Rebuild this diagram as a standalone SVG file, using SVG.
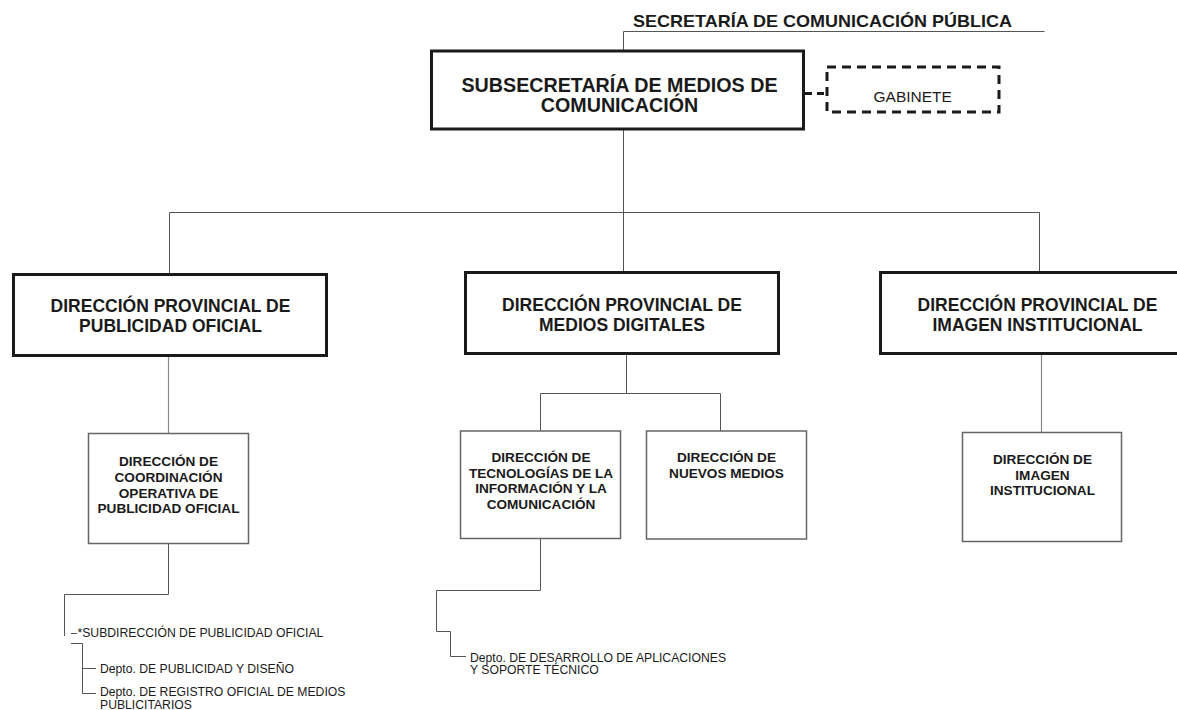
<svg xmlns="http://www.w3.org/2000/svg" width="1177" height="710" viewBox="0 0 1177 710">
<style>
text{font-family:"Liberation Sans",Arial,sans-serif;fill:#1a1a1a}
.t0{font-size:17px;font-weight:bold}
.t1{font-size:19.7px;font-weight:bold}
.t2{font-size:17.5px;font-weight:bold}
.t3{font-size:13.6px;font-weight:bold}
.s{font-size:12.2px}
.g{font-size:15.5px}
.b1{fill:#fff;stroke:#1a1a1a;stroke-width:3}
.b2{fill:#fff;stroke:#1a1a1a;stroke-width:3}
.b3{fill:#fff;stroke:#666;stroke-width:1.5}
.dash{fill:#fff;stroke:#1a1a1a;stroke-width:3;stroke-dasharray:9 6}
.c{fill:none;stroke:#555;stroke-width:1}
.cl{fill:none;stroke:#888;stroke-width:1.2}
.cd{fill:none;stroke:#1a1a1a;stroke-width:3;stroke-dasharray:7 5}
</style>
<g id="connectors">
<path class="c" d="M623.5 31.5H1044.5M623.5 31.5V50"/>
<path class="cd" d="M805 93.5H826"/>
<path class="c" d="M623.5 130V212.5M169.5 212.5H1039.5M169.5 212.5V274M623.5 212.5V272M1039.5 212.5V272"/>
<path class="cl" d="M168.5 356V433"/>
<path class="c" d="M626.5 354V393.5H540.5V431M626.5 393.5H720.5V431"/>
<path class="cl" d="M1041.5 354V432"/>
<path class="c" d="M168.5 544V594.5H64.5V636"/>
<path class="c" d="M71 633.5H77M71 643.5H82.5V693.5H96M82.5 668.5H96"/>
<path class="c" d="M540.5 539V590.5H436.5V631.5H450.5V656.5H466"/>
</g>
<g id="secretaria">
<text class="t0" x="633" y="26.5" textLength="379" lengthAdjust="spacingAndGlyphs">SECRETARÍA DE COMUNICACIÓN PÚBLICA</text>
</g>
<g id="subsecretaria">
<rect class="b1" x="431.5" y="51" width="372" height="78"/>
<text class="t1" x="619.5" y="91.7" text-anchor="middle">SUBSECRETARÍA DE MEDIOS DE</text>
<text class="t1" x="619.5" y="111.7" text-anchor="middle">COMUNICACIÓN</text>
</g>
<g id="gabinete">
<rect class="dash" x="827" y="67" width="172" height="45"/>
<text class="g" x="912.7" y="101.7" text-anchor="middle">GABINETE</text>
</g>
<g id="dp-publicidad">
<rect class="b2" x="13.5" y="274.5" width="313" height="81"/>
<text class="t2" x="170.5" y="312" text-anchor="middle">DIRECCIÓN PROVINCIAL DE</text>
<text class="t2" x="170.5" y="331.7" text-anchor="middle">PUBLICIDAD OFICIAL</text>
</g>
<g id="dp-medios">
<rect class="b2" x="465.5" y="272.5" width="313" height="81"/>
<text class="t2" x="622" y="311" text-anchor="middle">DIRECCIÓN PROVINCIAL DE</text>
<text class="t2" x="622" y="330.5" text-anchor="middle">MEDIOS DIGITALES</text>
</g>
<g id="dp-imagen">
<rect class="b2" x="880.5" y="272.5" width="305" height="81"/>
<text class="t2" x="1037.5" y="311" text-anchor="middle">DIRECCIÓN PROVINCIAL DE</text>
<text class="t2" x="1037.5" y="330.5" text-anchor="middle">IMAGEN INSTITUCIONAL</text>
</g>
<g id="d-coordinacion">
<rect class="b3" x="88.5" y="433.5" width="160" height="110"/>
<text class="t3" x="168.5" y="466" text-anchor="middle">DIRECCIÓN DE</text>
<text class="t3" x="168.5" y="482" text-anchor="middle">COORDINACIÓN</text>
<text class="t3" x="168.5" y="497.5" text-anchor="middle">OPERATIVA DE</text>
<text class="t3" x="168.5" y="513.3" text-anchor="middle">PUBLICIDAD OFICIAL</text>
</g>
<g id="d-tic">
<rect class="b3" x="460.5" y="431" width="160" height="107.5"/>
<text class="t3" x="541" y="461.7" text-anchor="middle">DIRECCIÓN DE</text>
<text class="t3" x="541" y="477.7" text-anchor="middle">TECNOLOGÍAS DE LA</text>
<text class="t3" x="541" y="493.3" text-anchor="middle">INFORMACIÓN Y LA</text>
<text class="t3" x="541" y="508.5" text-anchor="middle">COMUNICACIÓN</text>
</g>
<g id="d-nuevos">
<rect class="b3" x="646.5" y="431" width="160" height="108"/>
<text class="t3" x="726.5" y="461.7" text-anchor="middle">DIRECCIÓN DE</text>
<text class="t3" x="726.5" y="477.7" text-anchor="middle">NUEVOS MEDIOS</text>
</g>
<g id="d-imagen">
<rect class="b3" x="962.5" y="432.5" width="159" height="109"/>
<text class="t3" x="1042.5" y="464" text-anchor="middle">DIRECCIÓN DE</text>
<text class="t3" x="1042.5" y="479.5" text-anchor="middle">IMAGEN</text>
<text class="t3" x="1042.5" y="495" text-anchor="middle">INSTITUCIONAL</text>
</g>
<g id="subdireccion">
<text class="s" x="77.5" y="637.3">*SUBDIRECCIÓN DE PUBLICIDAD OFICIAL</text>
</g>
<g id="depto-publicidad">
<text class="s" x="100" y="673">Depto. DE PUBLICIDAD Y DISEÑO</text>
</g>
<g id="depto-registro">
<text class="s" x="100" y="696"><tspan x="100">Depto. DE REGISTRO OFICIAL DE MEDIOS</tspan><tspan x="100" y="708.5">PUBLICITARIOS</tspan></text>
</g>
<g id="depto-desarrollo">
<text class="s" x="470" y="661.7"><tspan x="470">Depto. DE DESARROLLO DE APLICACIONES</tspan><tspan x="470" y="674">Y SOPORTE TÉCNICO</tspan></text>
</g>
</svg>
